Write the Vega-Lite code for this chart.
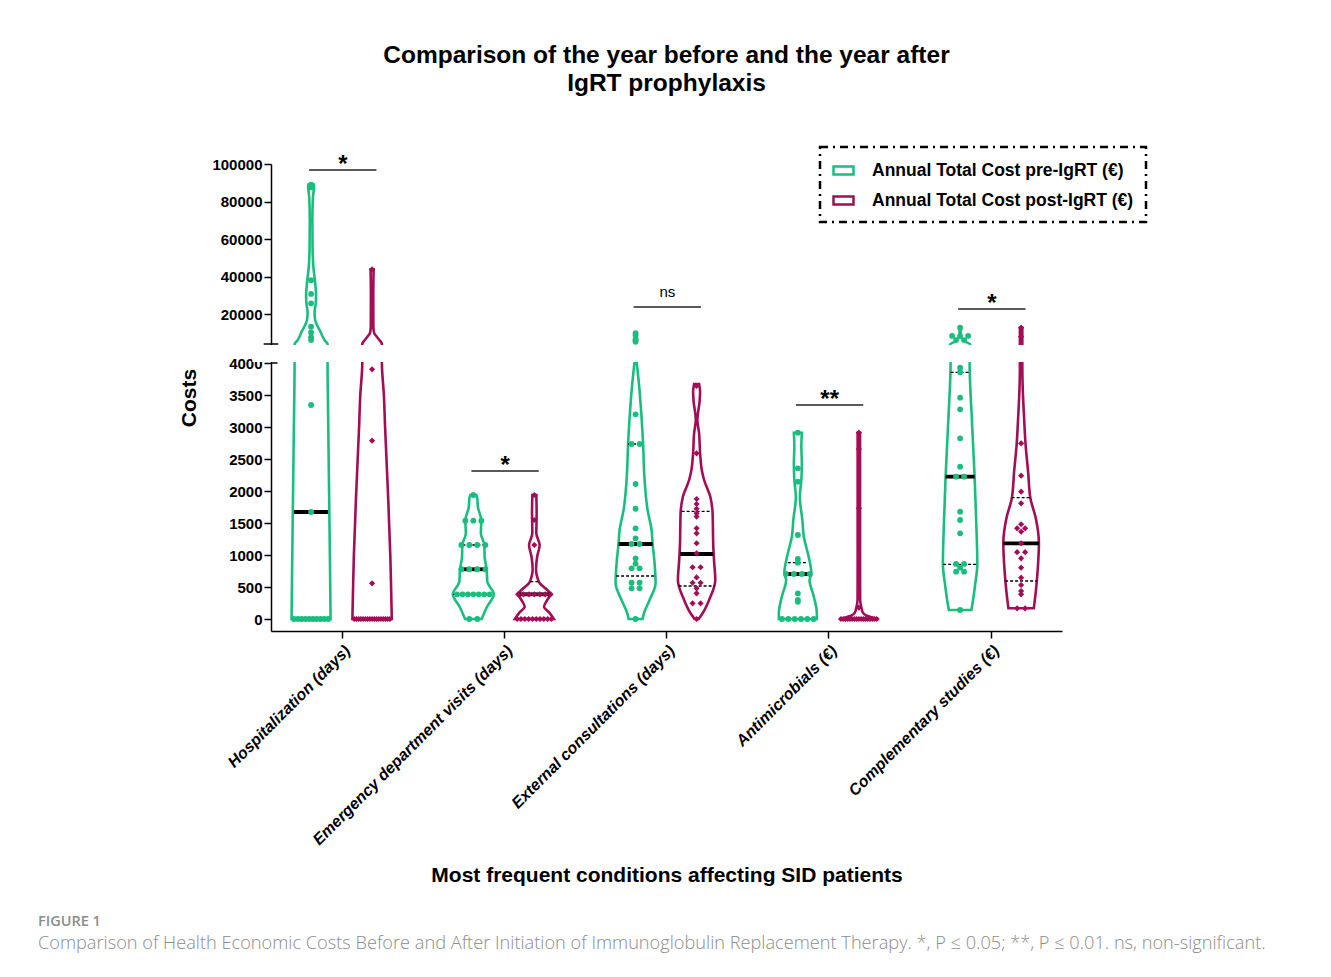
{
  "$schema": "https://vega.github.io/schema/vega-lite/v6.json",
  "autosize": {"type": "pad"},
  "padding": {"left": 38, "top": 42, "right": 5, "bottom": 5},
  "background": "white",
  "config": {"view": {"stroke": null}, "font": "Liberation Sans", "legend": {"strokeDash": [8, 5, 2, 5], "strokeWidth": 2.5}},
  "bounds": "flush",
  "spacing": 328,
  "vconcat": [
    {
      "width": 791,
      "height": 467,
      "title": {"text": ["Comparison of the year before and the year after", "IgRT prophylaxis"], "font": "Liberation Sans", "fontSize": 24.5, "fontWeight": "bold", "color": "black", "lineHeight": 28, "anchor": "middle", "offset": 57},
      "layer": [
        {
          "data": {"values": [
            {"c":0,"g":"pre","v":0,"hw":19.5},{"c":0,"g":"pre","v":1000,"hw":18.8},{"c":0,"g":"pre","v":2000,"hw":18},{"c":0,"g":"pre","v":3000,"hw":17.2},{"c":0,"g":"pre","v":4000,"hw":16.5},{"c":0,"g":"pre","v":4001,"hw":16.5},{"c":0,"g":"pre","v":6000,"hw":13.5},{"c":0,"g":"pre","v":8000,"hw":11.5},{"c":0,"g":"pre","v":11000,"hw":9},{"c":0,"g":"pre","v":14000,"hw":6},{"c":0,"g":"pre","v":17000,"hw":4},{"c":0,"g":"pre","v":21000,"hw":3.5},{"c":0,"g":"pre","v":25000,"hw":4.5},{"c":0,"g":"pre","v":30000,"hw":5},{"c":0,"g":"pre","v":34000,"hw":4.5},{"c":0,"g":"pre","v":38000,"hw":3.8},{"c":0,"g":"pre","v":44000,"hw":2.5},{"c":0,"g":"pre","v":55000,"hw":1.5},{"c":0,"g":"pre","v":70000,"hw":1.3},{"c":0,"g":"pre","v":82000,"hw":1.8},{"c":0,"g":"pre","v":88000,"hw":3},{"c":0,"g":"pre","v":89200,"hw":2.5},
            {"c":0,"g":"post","v":0,"hw":19.7},{"c":0,"g":"post","v":500,"hw":19},{"c":0,"g":"post","v":1000,"hw":18.2},{"c":0,"g":"post","v":2000,"hw":15.8},{"c":0,"g":"post","v":3000,"hw":13},{"c":0,"g":"post","v":3500,"hw":11.8},{"c":0,"g":"post","v":4000,"hw":9.8},{"c":0,"g":"post","v":4001,"hw":9.8},{"c":0,"g":"post","v":5000,"hw":9},{"c":0,"g":"post","v":6000,"hw":7.5},{"c":0,"g":"post","v":8000,"hw":4.5},{"c":0,"g":"post","v":10000,"hw":2},{"c":0,"g":"post","v":13000,"hw":1.3},{"c":0,"g":"post","v":30000,"hw":1.2},{"c":0,"g":"post","v":43800,"hw":1.5},
            {"c":1,"g":"pre","v":0,"hw":8.3},{"c":1,"g":"pre","v":192,"hw":13.7},{"c":1,"g":"pre","v":386,"hw":20.5},{"c":1,"g":"pre","v":583,"hw":14},{"c":1,"g":"pre","v":777,"hw":13.3},{"c":1,"g":"pre","v":973,"hw":11.3},{"c":1,"g":"pre","v":1156,"hw":11},{"c":1,"g":"pre","v":1339,"hw":7.5},{"c":1,"g":"pre","v":1536,"hw":8},{"c":1,"g":"pre","v":1755,"hw":4.5},{"c":1,"g":"pre","v":1880,"hw":4},{"c":1,"g":"pre","v":1937,"hw":3},
            {"c":1,"g":"post","v":0,"hw":19.5},{"c":1,"g":"post","v":100,"hw":15},{"c":1,"g":"post","v":192,"hw":9.7},{"c":1,"g":"post","v":300,"hw":13},{"c":1,"g":"post","v":386,"hw":16},{"c":1,"g":"post","v":480,"hw":11},{"c":1,"g":"post","v":557,"hw":5.5},{"c":1,"g":"post","v":650,"hw":3},{"c":1,"g":"post","v":766,"hw":1.7},{"c":1,"g":"post","v":973,"hw":2.8},{"c":1,"g":"post","v":1156,"hw":5.3},{"c":1,"g":"post","v":1339,"hw":2},{"c":1,"g":"post","v":1651,"hw":2.3},{"c":1,"g":"post","v":1937,"hw":2},
            {"c":2,"g":"pre","v":0,"hw":7},{"c":2,"g":"pre","v":89,"hw":8.3},{"c":2,"g":"pre","v":297,"hw":14},{"c":2,"g":"pre","v":557,"hw":20},{"c":2,"g":"pre","v":870,"hw":19},{"c":2,"g":"pre","v":1183,"hw":17},{"c":2,"g":"pre","v":1390,"hw":16},{"c":2,"g":"pre","v":1703,"hw":12},{"c":2,"g":"pre","v":2172,"hw":9},{"c":2,"g":"pre","v":2734,"hw":7.5},{"c":2,"g":"pre","v":3214,"hw":5.7},{"c":2,"g":"pre","v":3734,"hw":3},{"c":2,"g":"pre","v":3995,"hw":1.2},
            {"c":2,"g":"post","v":0,"hw":2},{"c":2,"g":"post","v":89,"hw":6},{"c":2,"g":"post","v":297,"hw":12.5},{"c":2,"g":"post","v":609,"hw":18.7},{"c":2,"g":"post","v":900,"hw":17.5},{"c":2,"g":"post","v":1130,"hw":16.7},{"c":2,"g":"post","v":1651,"hw":16},{"c":2,"g":"post","v":1911,"hw":13.7},{"c":2,"g":"post","v":2172,"hw":7.5},{"c":2,"g":"post","v":2300,"hw":5.5},{"c":2,"g":"post","v":2589,"hw":3.5},{"c":2,"g":"post","v":2900,"hw":2.5},{"c":2,"g":"post","v":3109,"hw":0.8},{"c":2,"g":"post","v":3400,"hw":3},{"c":2,"g":"post","v":3550,"hw":3.5},{"c":2,"g":"post","v":3672,"hw":2.5},
            {"c":3,"g":"pre","v":0,"hw":19},{"c":3,"g":"pre","v":89,"hw":19},{"c":3,"g":"pre","v":349,"hw":16},{"c":3,"g":"pre","v":609,"hw":11.7},{"c":3,"g":"pre","v":714,"hw":13.5},{"c":3,"g":"pre","v":1026,"hw":10},{"c":3,"g":"pre","v":1286,"hw":6},{"c":3,"g":"pre","v":1547,"hw":4.5},{"c":3,"g":"pre","v":1911,"hw":2},{"c":3,"g":"pre","v":2172,"hw":3.5},{"c":3,"g":"pre","v":2432,"hw":4},{"c":3,"g":"pre","v":2693,"hw":3.5},{"c":3,"g":"pre","v":2911,"hw":4},
            {"c":3,"g":"post","v":0,"hw":19},{"c":3,"g":"post","v":20,"hw":14},{"c":3,"g":"post","v":50,"hw":8},{"c":3,"g":"post","v":100,"hw":4},{"c":3,"g":"post","v":180,"hw":2.5},{"c":3,"g":"post","v":300,"hw":1.3},{"c":3,"g":"post","v":1000,"hw":1.2},{"c":3,"g":"post","v":2911,"hw":1.2},
            {"c":4,"g":"pre","v":141,"hw":11.3},{"c":4,"g":"pre","v":300,"hw":13},{"c":4,"g":"pre","v":531,"hw":15},{"c":4,"g":"pre","v":855,"hw":17.2},{"c":4,"g":"pre","v":1573,"hw":16},{"c":4,"g":"pre","v":2224,"hw":14.5},{"c":4,"g":"pre","v":3136,"hw":11.7},{"c":4,"g":"pre","v":3995,"hw":9.5},{"c":4,"g":"pre","v":4001,"hw":10},{"c":4,"g":"pre","v":5000,"hw":6},{"c":4,"g":"pre","v":6100,"hw":3.5},{"c":4,"g":"pre","v":7500,"hw":1},{"c":4,"g":"pre","v":8300,"hw":0.5},{"c":4,"g":"pre","v":12700,"hw":0.5},
            {"c":4,"g":"post","v":167,"hw":12.7},{"c":4,"g":"post","v":427,"hw":14.7},{"c":4,"g":"post","v":792,"hw":16.7},{"c":4,"g":"post","v":1183,"hw":17.8},{"c":4,"g":"post","v":1573,"hw":14.7},{"c":4,"g":"post","v":1886,"hw":9.3},{"c":4,"g":"post","v":2302,"hw":7},{"c":4,"g":"post","v":2719,"hw":4.5},{"c":4,"g":"post","v":3136,"hw":3},{"c":4,"g":"post","v":3656,"hw":1.5},{"c":4,"g":"post","v":3995,"hw":1.2},{"c":4,"g":"post","v":4001,"hw":1.2},{"c":4,"g":"post","v":7900,"hw":1.2},{"c":4,"g":"post","v":12700,"hw":1.2}
          ]},
          "transform": [
            {"calculate": "datum.c + (datum.g == 'pre' ? -0.188 : 0.188) - datum.hw / 162.26", "as": "x"},
            {"calculate": "datum.c + (datum.g == 'pre' ? -0.188 : 0.188) + datum.hw / 162.26", "as": "x2"}
          ],
          "mark": {"type": "area", "orient": "horizontal", "interpolate": "monotone", "fill": "white", "strokeWidth": 2.6},
          "encoding": {
            "y": {"field": "v", "type": "quantitative",
              "scale": {"domain": [-187.5, 4000, 4001, 100000], "range": [467, 199, 180, 0], "zero": false, "nice": false},
              "axis": {"title": "Costs", "values": [0,500,1000,1500,2000,2500,3000,3500,4000,20000,40000,60000,80000,100000], "tickCount": 40, "format": "d", "grid": false, "labelFont": "Liberation Sans", "labelFontWeight": "bold", "labelFontSize": 15, "labelColor": "black", "tickColor": "black", "tickWidth": 1.5, "tickSize": 7, "domainColor": "black", "domainWidth": 1.5, "labelPadding": 2, "titleFont": "Liberation Sans", "titleFontSize": 21, "titleFontWeight": "bold", "titleColor": "black", "titlePadding": 12, "labelFlush": false, "labelOverlap": false}},
            "x": {"field": "x", "type": "quantitative",
              "scale": {"domain": [-0.435, 4.44], "zero": false, "nice": false},
              "axis": {"title": "Most frequent conditions affecting SID patients", "values": [0,1,2,3,4], "tickCount": 10, "labelExpr": "['Hospitalization (days)','Emergency department visits (days)','External consultations (days)','Antimicrobials (€)','Complementary studies (€)'][datum.value]", "labelAngle": -45, "labelAlign": "right", "labelBaseline": "top", "labelFont": "Liberation Sans", "labelFontSize": 16, "labelFontWeight": "bold", "labelFontStyle": "italic", "labelColor": "black", "labelPadding": 4, "tickSize": 7, "tickColor": "black", "tickWidth": 1.5, "domainColor": "black", "domainWidth": 1.5, "grid": false, "labelOverlap": false, "labelFlush": false, "labelBound": false, "labelLimit": 500, "titleFont": "Liberation Sans", "titleFontSize": 21, "titleFontWeight": "bold", "titleColor": "black", "titlePadding": 33}},
            "x2": {"field": "x2"},
            "detail": {"field": "c"},
            "stroke": {"field": "g", "type": "nominal", "scale": {"domain": ["pre", "post"], "range": ["#19BE7E", "#A30D55"]},
              "legend": {"orient": "none", "legendX": 549, "legendY": -17, "title": null, "labelExpr": "datum.label == 'pre' ? 'Annual Total Cost pre-IgRT (€)' : 'Annual Total Cost post-IgRT (€)'", "labelFont": "Liberation Sans", "labelFontSize": 17.5, "labelFontWeight": "bold", "labelColor": "black", "labelLimit": 500, "symbolType": "M-1,-0.4L1,-0.4L1,0.4L-1,0.4Z", "symbolSize": 400, "symbolStrokeWidth": 2.5, "symbolFillColor": "white", "labelOffset": 17, "rowPadding": 9, "padding": 12, "strokeColor": "black"}}
          }
        },
        {
          "data": {"values": [
            {"c":0,"g":"pre","k":"med","v":1672,"hw":17},
            {"c":1,"g":"pre","k":"med","v":777,"hw":13},{"c":1,"g":"pre","k":"q","v":1156,"hw":11},{"c":1,"g":"pre","k":"q","v":386,"hw":20},
            {"c":1,"g":"post","k":"med","v":386,"hw":15.5},{"c":1,"g":"post","k":"q","v":583,"hw":4},
            {"c":2,"g":"pre","k":"med","v":1172,"hw":17},{"c":2,"g":"pre","k":"q","v":2734,"hw":7.5},{"c":2,"g":"pre","k":"q","v":672,"hw":19.5},
            {"c":2,"g":"post","k":"med","v":1016,"hw":16.5},{"c":2,"g":"post","k":"q","v":1683,"hw":15},{"c":2,"g":"post","k":"q","v":516,"hw":18},
            {"c":3,"g":"pre","k":"med","v":703,"hw":13},{"c":3,"g":"pre","k":"q","v":880,"hw":10},
            {"c":4,"g":"pre","k":"med","v":2224,"hw":14.5},{"c":4,"g":"pre","k":"q","v":3855,"hw":9.5},{"c":4,"g":"pre","k":"q","v":855,"hw":17},
            {"c":4,"g":"post","k":"med","v":1183,"hw":17.8},{"c":4,"g":"post","k":"q","v":1896,"hw":9.5},{"c":4,"g":"post","k":"q","v":594,"hw":16}
          ]},
          "transform": [
            {"calculate": "datum.c + (datum.g == 'pre' ? -0.188 : 0.188) - datum.hw / 162.26", "as": "x"},
            {"calculate": "datum.c + (datum.g == 'pre' ? -0.188 : 0.188) + datum.hw / 162.26", "as": "x2"}
          ],
          "layer": [
            {
              "transform": [{"filter": "datum.k == 'q'"}],
              "mark": {"type": "rule", "color": "black", "strokeWidth": 1.3, "strokeDash": [3, 2]},
              "encoding": {
                "x": {"field": "x", "type": "quantitative"},
                "x2": {"field": "x2"},
                "y": {"field": "v", "type": "quantitative"}
              }
            },
            {
              "transform": [{"filter": "datum.k == 'med'"}],
              "mark": {"type": "rule", "color": "black", "strokeWidth": 3.8},
              "encoding": {
                "x": {"field": "x", "type": "quantitative"},
                "x2": {"field": "x2"},
                "y": {"field": "v", "type": "quantitative"}
              }
            }
          ]
        },
        {
          "data": {"values": [
            {"c":0,"g":"pre","v":89000},{"c":0,"g":"pre","v":87500},{"c":0,"g":"pre","v":38000},{"c":0,"g":"pre","v":30700},{"c":0,"g":"pre","v":25700},{"c":0,"g":"pre","v":13200},{"c":0,"g":"pre","v":10200},{"c":0,"g":"pre","v":7600},{"c":0,"g":"pre","v":6100},{"c":0,"g":"pre","v":3344},{"c":0,"g":"pre","v":1672},
            {"c":0,"g":"pre","v":0},{"c":0,"g":"pre","v":0},{"c":0,"g":"pre","v":0},{"c":0,"g":"pre","v":0},{"c":0,"g":"pre","v":0},{"c":0,"g":"pre","v":0},{"c":0,"g":"pre","v":0},{"c":0,"g":"pre","v":0},{"c":0,"g":"pre","v":0},{"c":0,"g":"pre","v":0},
            {"c":0,"g":"post","v":43800},{"c":0,"g":"post","v":3901},{"c":0,"g":"post","v":2786},{"c":0,"g":"post","v":557},
            {"c":0,"g":"post","v":0},{"c":0,"g":"post","v":0},{"c":0,"g":"post","v":0},{"c":0,"g":"post","v":0},{"c":0,"g":"post","v":0},{"c":0,"g":"post","v":0},{"c":0,"g":"post","v":0},{"c":0,"g":"post","v":0},{"c":0,"g":"post","v":0},{"c":0,"g":"post","v":0},{"c":0,"g":"post","v":0},{"c":0,"g":"post","v":0},{"c":0,"g":"post","v":0},{"c":0,"g":"post","v":0},{"c":0,"g":"post","v":0},{"c":0,"g":"post","v":0},{"c":0,"g":"post","v":0},
            {"c":1,"g":"pre","v":0},{"c":1,"g":"pre","v":0},
            {"c":1,"g":"pre","v":386},{"c":1,"g":"pre","v":386},{"c":1,"g":"pre","v":386},{"c":1,"g":"pre","v":386},{"c":1,"g":"pre","v":386},{"c":1,"g":"pre","v":386},{"c":1,"g":"pre","v":386},
            {"c":1,"g":"pre","v":777},{"c":1,"g":"pre","v":777},{"c":1,"g":"pre","v":777},{"c":1,"g":"pre","v":777},
            {"c":1,"g":"pre","v":1156},{"c":1,"g":"pre","v":1156},{"c":1,"g":"pre","v":1156},{"c":1,"g":"pre","v":1156},
            {"c":1,"g":"pre","v":1536},{"c":1,"g":"pre","v":1536},{"c":1,"g":"pre","v":1536},
            {"c":1,"g":"pre","v":1937},
            {"c":1,"g":"post","v":0},{"c":1,"g":"post","v":0},{"c":1,"g":"post","v":0},{"c":1,"g":"post","v":0},{"c":1,"g":"post","v":0},{"c":1,"g":"post","v":0},{"c":1,"g":"post","v":0},{"c":1,"g":"post","v":0},{"c":1,"g":"post","v":0},{"c":1,"g":"post","v":0},
            {"c":1,"g":"post","v":386},{"c":1,"g":"post","v":386},{"c":1,"g":"post","v":386},{"c":1,"g":"post","v":386},{"c":1,"g":"post","v":386},{"c":1,"g":"post","v":386},{"c":1,"g":"post","v":386},
            {"c":1,"g":"post","v":1156},{"c":1,"g":"post","v":1547},{"c":1,"g":"post","v":1937},
            {"c":2,"g":"pre","v":9800},{"c":2,"g":"pre","v":8500},{"c":2,"g":"pre","v":6500},{"c":2,"g":"pre","v":6000},{"c":2,"g":"pre","v":5200},{"c":2,"g":"pre","v":3198},{"c":2,"g":"pre","v":2734},{"c":2,"g":"pre","v":2734},{"c":2,"g":"pre","v":2109},{"c":2,"g":"pre","v":1723},{"c":2,"g":"pre","v":1417},{"c":2,"g":"pre","v":1172},{"c":2,"g":"pre","v":1172},{"c":2,"g":"pre","v":1261},{"c":2,"g":"pre","v":948},{"c":2,"g":"pre","v":864},{"c":2,"g":"pre","v":792},{"c":2,"g":"pre","v":792},{"c":2,"g":"pre","v":567},{"c":2,"g":"pre","v":567},{"c":2,"g":"pre","v":479},{"c":2,"g":"pre","v":479},{"c":2,"g":"pre","v":0},
            {"c":2,"g":"post","v":3640},{"c":2,"g":"post","v":2589},{"c":2,"g":"post","v":1875},{"c":2,"g":"post","v":1797},{"c":2,"g":"post","v":1723},{"c":2,"g":"post","v":1651},{"c":2,"g":"post","v":1600},{"c":2,"g":"post","v":1417},{"c":2,"g":"post","v":1339},{"c":2,"g":"post","v":1183},{"c":2,"g":"post","v":1026},{"c":2,"g":"post","v":808},{"c":2,"g":"post","v":808},{"c":2,"g":"post","v":650},{"c":2,"g":"post","v":567},{"c":2,"g":"post","v":567},{"c":2,"g":"post","v":479},{"c":2,"g":"post","v":401},{"c":2,"g":"post","v":245},{"c":2,"g":"post","v":245},{"c":2,"g":"post","v":0},
            {"c":3,"g":"pre","v":2911},{"c":3,"g":"pre","v":2354},{"c":3,"g":"pre","v":2146},{"c":3,"g":"pre","v":1312},{"c":3,"g":"pre","v":937},{"c":3,"g":"pre","v":880},{"c":3,"g":"pre","v":703},{"c":3,"g":"pre","v":703},{"c":3,"g":"pre","v":703},{"c":3,"g":"pre","v":703},{"c":3,"g":"pre","v":400},{"c":3,"g":"pre","v":300},{"c":3,"g":"pre","v":270},
            {"c":3,"g":"pre","v":0},{"c":3,"g":"pre","v":0},{"c":3,"g":"pre","v":0},{"c":3,"g":"pre","v":0},{"c":3,"g":"pre","v":0},{"c":3,"g":"pre","v":0},
            {"c":3,"g":"post","v":2911},{"c":3,"g":"post","v":2656},{"c":3,"g":"post","v":1729},{"c":3,"g":"post","v":177},
            {"c":3,"g":"post","v":0},{"c":3,"g":"post","v":0},{"c":3,"g":"post","v":0},{"c":3,"g":"post","v":0},{"c":3,"g":"post","v":0},{"c":3,"g":"post","v":0},{"c":3,"g":"post","v":0},{"c":3,"g":"post","v":0},{"c":3,"g":"post","v":0},{"c":3,"g":"post","v":0},{"c":3,"g":"post","v":0},{"c":3,"g":"post","v":0},{"c":3,"g":"post","v":0},{"c":3,"g":"post","v":0},{"c":3,"g":"post","v":0},{"c":3,"g":"post","v":0},{"c":3,"g":"post","v":0},
            {"c":4,"g":"pre","v":12700},{"c":4,"g":"pre","v":8300},{"c":4,"g":"pre","v":8300},{"c":4,"g":"pre","v":8300},{"c":4,"g":"pre","v":6100},{"c":4,"g":"pre","v":6100},{"c":4,"g":"pre","v":3927},{"c":4,"g":"pre","v":3855},{"c":4,"g":"pre","v":3458},{"c":4,"g":"pre","v":3276},{"c":4,"g":"pre","v":2823},{"c":4,"g":"pre","v":2380},{"c":4,"g":"pre","v":2224},{"c":4,"g":"pre","v":2224},{"c":4,"g":"pre","v":1677},{"c":4,"g":"pre","v":1547},{"c":4,"g":"pre","v":1339},{"c":4,"g":"pre","v":860},{"c":4,"g":"pre","v":860},{"c":4,"g":"pre","v":802},{"c":4,"g":"pre","v":740},{"c":4,"g":"pre","v":740},{"c":4,"g":"pre","v":141},
            {"c":4,"g":"post","v":12700},{"c":4,"g":"post","v":7900},{"c":4,"g":"post","v":2745},{"c":4,"g":"post","v":2240},{"c":4,"g":"post","v":1990},{"c":4,"g":"post","v":1807},{"c":4,"g":"post","v":1480},{"c":4,"g":"post","v":1417},{"c":4,"g":"post","v":1417},{"c":4,"g":"post","v":1365},{"c":4,"g":"post","v":1183},{"c":4,"g":"post","v":1044},{"c":4,"g":"post","v":1044},{"c":4,"g":"post","v":948},{"c":4,"g":"post","v":802},{"c":4,"g":"post","v":646},{"c":4,"g":"post","v":531},{"c":4,"g":"post","v":438},{"c":4,"g":"post","v":386},{"c":4,"g":"post","v":167},{"c":4,"g":"post","v":167}
          ]},
          "transform": [
            {"window": [{"op": "row_number", "as": "r"}, {"op": "count", "as": "n"}], "groupby": ["c", "g", "v"], "frame": [null, null]},
            {"calculate": "datum.c + (datum.g == 'pre' ? -0.188 : 0.188) + (datum.r - (datum.n + 1) / 2) * min(8, 38 / datum.n) / 162.26", "as": "x"}
          ],
          "layer": [
            {
              "transform": [{"filter": "datum.g == 'pre'"}],
              "mark": {"type": "point", "shape": "circle", "filled": true, "size": 34, "opacity": 1, "strokeWidth": 0, "color": "#19BE7E"},
              "encoding": {
                "x": {"field": "x", "type": "quantitative"},
                "y": {"field": "v", "type": "quantitative"}
              }
            },
            {
              "transform": [{"filter": "datum.g == 'post'"}],
              "mark": {"type": "point", "shape": "diamond", "filled": true, "size": 38, "opacity": 1, "strokeWidth": 0, "color": "#A30D55"},
              "encoding": {
                "x": {"field": "x", "type": "quantitative"},
                "y": {"field": "v", "type": "quantitative"}
              }
            }
          ]
        },
        {
          "data": {"values": [{}]},
          "mark": {"type": "rect", "fill": "white"},
          "encoding": {
            "x": {"datum": -0.55, "type": "quantitative"},
            "x2": {"datum": 4.6},
            "y": {"datum": 4000.05, "type": "quantitative"},
            "y2": {"datum": 4000.95}
          }
        },
        {
          "data": {"values": [{}]},
          "mark": {"type": "rule", "color": "black", "strokeWidth": 1.5},
          "encoding": {
            "x": {"datum": -0.48, "type": "quantitative"},
            "x2": {"datum": -0.39},
            "y": {"datum": 4001, "type": "quantitative"}
          }
        },
        {
          "data": {"values": [{}]},
          "mark": {"type": "rule", "color": "black", "strokeWidth": 1.5},
          "encoding": {
            "x": {"datum": -0.435, "type": "quantitative"},
            "x2": {"datum": -0.395},
            "y": {"datum": 4000, "type": "quantitative"}
          }
        },
        {
          "data": {"values": [
            {"c": 0, "v": 96800, "lab": "*"},
            {"c": 1, "v": 2312, "lab": "*"},
            {"c": 2, "v": 23733, "lab": "ns"},
            {"c": 3, "v": 3344, "lab": "**"},
            {"c": 4, "v": 22667, "lab": "*"}
          ]},
          "transform": [
            {"calculate": "datum.c - 0.2", "as": "x"},
            {"calculate": "datum.c + 0.215", "as": "x2"},
            {"calculate": "datum.c + 0.008", "as": "xm"}
          ],
          "layer": [
            {
              "mark": {"type": "rule", "color": "#222222", "strokeWidth": 1.5},
              "encoding": {
                "x": {"field": "x", "type": "quantitative"},
                "x2": {"field": "x2"},
                "y": {"field": "v", "type": "quantitative"}
              }
            },
            {
              "transform": [{"filter": "datum.lab != 'ns'"}],
              "mark": {"type": "text", "font": "Liberation Sans", "fontSize": 24, "fontWeight": "bold", "color": "black", "baseline": "alphabetic", "dy": 2},
              "encoding": {
                "x": {"field": "xm", "type": "quantitative"},
                "y": {"field": "v", "type": "quantitative"},
                "text": {"field": "lab"}
              }
            },
            {
              "transform": [{"filter": "datum.lab == 'ns'"}],
              "mark": {"type": "text", "font": "Liberation Sans", "fontSize": 15, "color": "black", "baseline": "alphabetic", "dy": -10},
              "encoding": {
                "x": {"field": "xm", "type": "quantitative"},
                "y": {"field": "v", "type": "quantitative"},
                "text": {"field": "lab"}
              }
            }
          ]
        }
      ]
    },
    {
      "width": 100,
      "height": 1,
      "data": {"values": [{}]},
      "mark": {"type": "text", "text": ""},
      "title": {"text": "FIGURE 1", "subtitle": "Comparison of Health Economic Costs Before and After Initiation of Immunoglobulin Replacement Therapy. *, P ≤ 0.05; **, P ≤ 0.01. ns, non-significant.", "anchor": "start", "frame": "group", "orient": "top", "dx": -233, "offset": 0, "font": "Open Sans", "fontSize": 14.5, "fontWeight": 600, "color": "#8c8c8c", "subtitleFont": "Open Sans", "subtitleFontSize": 18.2, "subtitleFontWeight": 300, "subtitleColor": "#8c8c8c", "subtitlePadding": 6}
    }
  ]
}
